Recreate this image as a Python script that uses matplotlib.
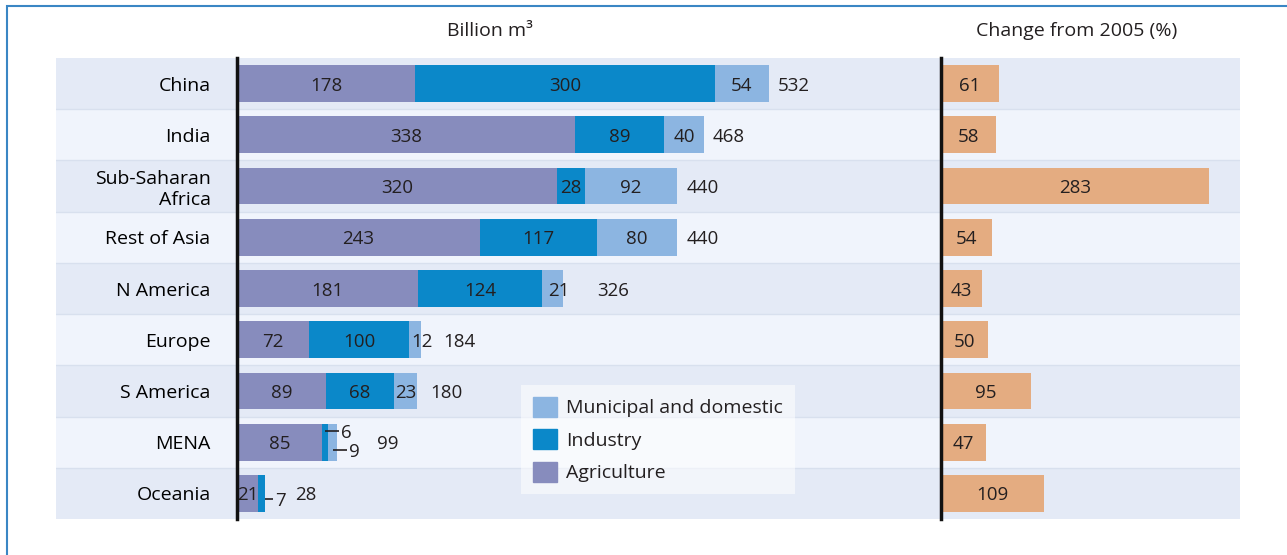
import matplotlib
matplotlib.use('Agg')
import matplotlib.pyplot as plt
from matplotlib.patches import Rectangle, Patch

plt.rcParams['font.family'] = ['Open Sans', 'DejaVu Sans']
plt.rcParams['font.size'] = 13.5
plt.rcParams['text.color'] = '#231f20'

# data (billion m3, change from 2005 in %)
regions = ['China', 'India', 'Sub-Saharan\nAfrica', 'Rest of Asia', 'N America',
           'Europe', 'S America', 'MENA', 'Oceania']
agriculture = [178, 338, 320, 243, 181, 72, 89, 85, 21]
industry = [300, 89, 28, 117, 124, 100, 68, 6, 7]
municipal = [54, 40, 92, 80, 21, 12, 23, 9, 0]
totals = [532, 468, 440, 440, 326, 184, 180, 99, 28]
change_2005 = [61, 58, 283, 54, 43, 50, 95, 47, 109]

c_agr = '#878cbd'
c_ind = '#0b88c9'
c_mun = '#8cb5e1'
c_chg = '#e4ac81'
row_dark = '#e4eaf6'
row_light = '#f0f4fc'
word_size = 14.0
va_num = 'center_baseline'

W, H = 1287, 555
fig = plt.figure(figsize=(W / 100, H / 100), dpi=100)


def px(x0, y0, x1, y1):
    return [x0 / W, 1 - y1 / H, (x1 - x0) / W, (y1 - y0) / H]


n = len(regions)

# row stripes behind both panels
bg = fig.add_axes(px(56, 58, 1240, 519))
bg.set_xlim(0, 1)
bg.set_ylim(n - 0.5, -0.5)
for i in range(n):
    bg.axhspan(i - 0.5, i + 0.5, color=row_dark if i % 2 == 0 else row_light, lw=0)
    if i < n - 1:
        bg.axhline(i + 0.5, color='#d8e0ee', lw=1)
bg.axis('off')

# left panel: withdrawals by sector
ax = fig.add_axes(px(237, 58, 900, 519))
ax.patch.set_visible(False)
ax.set_xlim(0, 663)
ax.set_ylim(n - 0.5, -0.5)
h = 0.72
left_ind = [a for a in agriculture]
left_mun = [a + b for a, b in zip(agriculture, industry)]
ax.barh(range(n), agriculture, height=h, color=c_agr, label='Agriculture', zorder=2)
ax.barh(range(n), industry, left=left_ind, height=h, color=c_ind, label='Industry', zorder=2)
ax.barh(range(n), municipal, left=left_mun, height=h, color=c_mun,
        label='Municipal and domestic', zorder=2)

mun_nudge = [0, 0, 0, 0, 6, 7, 0, 0, 0]
for i in range(n):
    ax.text(agriculture[i] / 2, i, str(agriculture[i]), ha='center', va=va_num, zorder=3)
    if industry[i] >= 10:
        ax.text(left_ind[i] + industry[i] / 2, i, str(industry[i]), ha='center', va=va_num, zorder=3)
    if municipal[i] >= 10:
        ax.text(left_mun[i] + municipal[i] / 2 + mun_nudge[i], i, str(municipal[i]),
                ha='center', va=va_num, zorder=3)

# small values pulled out with leader lines
callouts = [(7, 'ind', -0.21, 'mid', 14), (7, 'mun', 0.16, 'mid', 14), (8, 'ind', 0.1, 'end', 8)]
for row, seg, dy, anchor, length in callouts:
    if seg == 'ind':
        x0, v = left_ind[row], industry[row]
    else:
        x0, v = left_mun[row], municipal[row]
    xs = x0 + v / 2 if anchor == 'mid' else x0 + v
    ax.plot([xs, xs + length], [row + dy, row + dy], color='#231f20', lw=1.2, zorder=4,
            solid_capstyle='butt')
    ax.text(xs + length + 2, row + dy, str(v), ha='left', va=va_num, zorder=4)

total_pad = [9, 8, 10, 10, 34, 22, 13, 41, 30]
for i in range(n):
    ax.text(totals[i] + total_pad[i], i, str(totals[i]), ha='left', va=va_num)

ax.set_yticks(range(n))
ax.set_yticklabels(regions, fontsize=word_size)
ax.tick_params(axis='y', length=0, pad=19)
ax.set_xticks([])
for s in ['top', 'right', 'bottom']:
    ax.spines[s].set_visible(False)
ax.spines['left'].set_linewidth(2.5)
ax.spines['left'].set_color('#111111')
ax.spines['left'].set_zorder(5)

handles = [Patch(color=c_mun), Patch(color=c_ind), Patch(color=c_agr)]
leg = ax.legend(handles, ['Municipal and domestic', 'Industry', 'Agriculture'],
                loc='upper left', bbox_to_anchor=((521 - 237) / 663, 1 - (385 - 58) / 461),
                frameon=True, fancybox=False, borderpad=0.6, labelspacing=0.62,
                handlelength=1.24, handleheight=1.2, handletextpad=0.5,
                borderaxespad=0, prop={'size': word_size})
leg.get_frame().set_facecolor('white')
leg.get_frame().set_alpha(0.55)
leg.get_frame().set_linewidth(0)

# right panel: change from 2005
ax2 = fig.add_axes(px(941, 58, 1240, 519))
ax2.patch.set_visible(False)
ax2.set_xlim(0, 299 / 0.947)
ax2.set_ylim(n - 0.5, -0.5)
ax2.barh(range(n), change_2005, height=h, color=c_chg, zorder=2)
for i in range(n):
    ax2.text(change_2005[i] / 2, i, str(change_2005[i]), ha='center', va=va_num, zorder=3)
ax2.set_xticks([])
ax2.set_yticks([])
for s in ['top', 'right', 'bottom']:
    ax2.spines[s].set_visible(False)
ax2.spines['left'].set_linewidth(2.5)
ax2.spines['left'].set_color('#111111')
ax2.spines['left'].set_zorder(5)

fig.text(490 / W, 1 - 31 / H, 'Billion m³', ha='center', va='center', fontsize=word_size)
fig.text(1077 / W, 1 - 31 / H, 'Change from 2005 (%)', ha='center', va='center',
         fontsize=word_size)

# outer frame
fig.add_artist(Rectangle((7 / W, -0.2), 2, 1.2 - 6 / H, transform=fig.transFigure,
                         fill=False, edgecolor='#3a86c4', lw=1.5))

fig.savefig('out.png', dpi=100)
